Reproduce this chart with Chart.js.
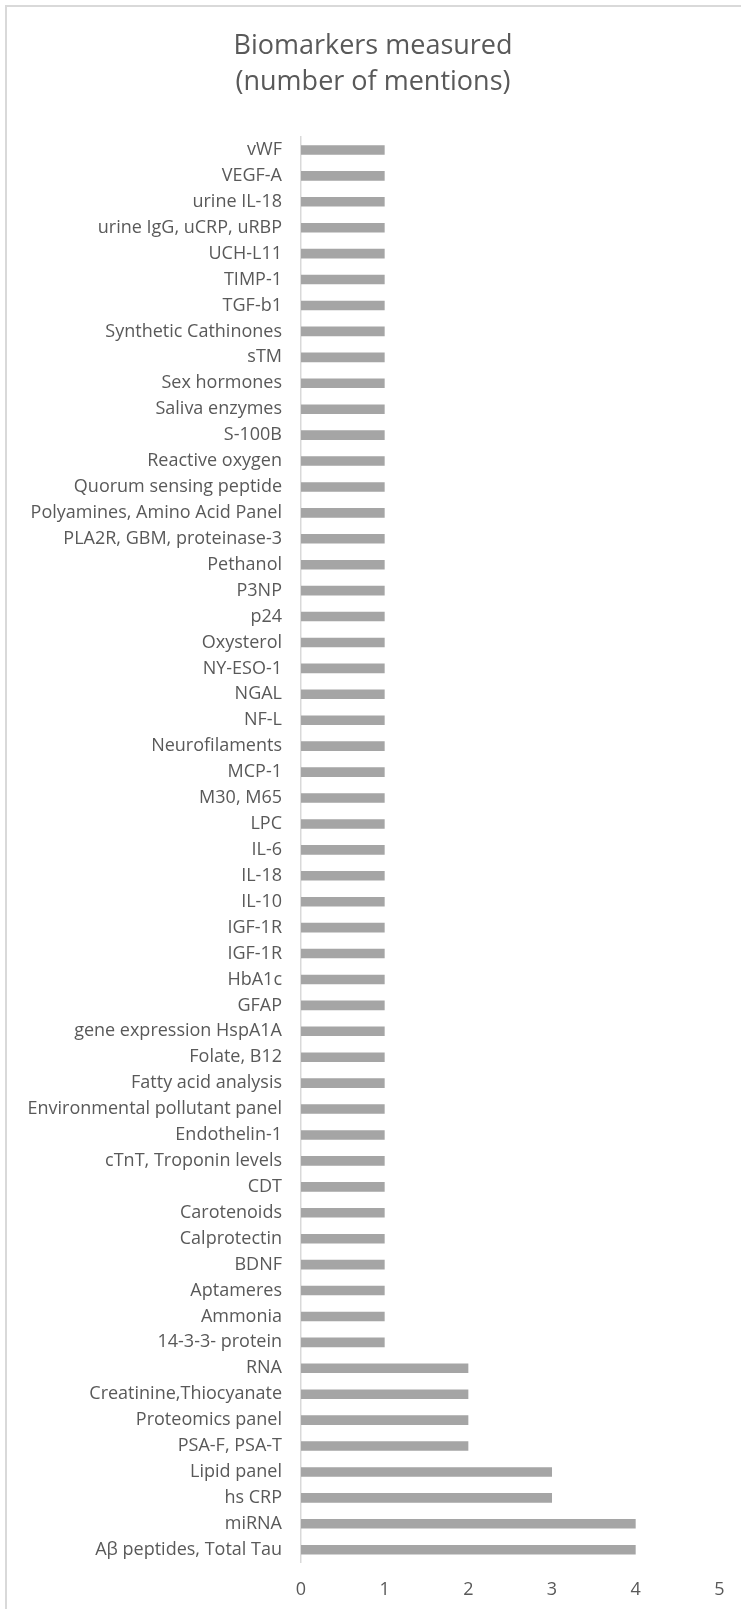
<!DOCTYPE html>
<html>
<head>
<meta charset="utf-8">
<script src="https://cdn.jsdelivr.net/npm/chart.js@4/dist/chart.umd.min.js"></script>
<style>
  html, body { margin: 0; padding: 0; background: #ffffff; }
  #wrap { width: 741px; height: 1609px; }
</style>
</head>
<body>
<div id="wrap"><canvas id="chart" width="741" height="1609"></canvas></div>
<script>
// Biomarkers, listed top to bottom
const biomarkers = [
  'vWF', 'VEGF-A', 'urine IL-18', 'urine IgG, uCRP, uRBP', 'UCH-L11', 'TIMP-1', 'TGF-b1',
  'Synthetic Cathinones', 'sTM', 'Sex hormones', 'Saliva enzymes', 'S-100B', 'Reactive oxygen',
  'Quorum sensing peptide', 'Polyamines, Amino Acid Panel', 'PLA2R, GBM, proteinase-3', 'Pethanol',
  'P3NP', 'p24', 'Oxysterol', 'NY-ESO-1', 'NGAL', 'NF-L', 'Neurofilaments', 'MCP-1', 'M30, M65',
  'LPC', 'IL-6', 'IL-18', 'IL-10', 'IGF-1R', 'IGF-1R', 'HbA1c', 'GFAP', 'gene expression HspA1A',
  'Folate, B12', 'Fatty acid analysis', 'Environmental pollutant panel', 'Endothelin-1',
  'cTnT, Troponin levels', 'CDT', 'Carotenoids', 'Calprotectin', 'BDNF', 'Aptameres', 'Ammonia',
  '14-3-3- protein', 'RNA', 'Creatinine,Thiocyanate', 'Proteomics panel', 'PSA-F, PSA-T',
  'Lipid panel', 'hs CRP', 'miRNA', 'A\u03b2 peptides, Total Tau'
];

// Number of mentions per biomarker (same order)
const mentions = [
  1, 1, 1, 1, 1, 1, 1,
  1, 1, 1, 1, 1, 1,
  1, 1, 1, 1,
  1, 1, 1, 1, 1, 1, 1, 1, 1,
  1, 1, 1, 1, 1, 1, 1, 1, 1,
  1, 1, 1, 1,
  1, 1, 1, 1, 1, 1, 1,
  1, 2, 2, 2, 2,
  3, 3, 4, 4
];

// Value axis ticks
const mentionTicks = [0, 1, 2, 3, 4, 5];

const chartTitle = ['Biomarkers measured', '(number of mentions)'];

const textColor = '#595959';
const lineColor = '#d9d9d9';
const barColor = '#a5a5a5';
const fontFamily = "'Open Sans', 'DejaVu Sans', sans-serif";

// Outer frame of the chart object
const framePlugin = {
  id: 'frame',
  beforeDraw(chart) {
    const ctx = chart.ctx;
    ctx.save();
    ctx.fillStyle = '#ffffff';
    ctx.fillRect(0, 0, chart.width, chart.height);
    ctx.strokeStyle = lineColor;
    ctx.lineWidth = 2;
    ctx.strokeRect(6, 6, chart.width + 20, chart.height + 20);
    ctx.restore();
  }
};

new Chart(document.getElementById('chart'), {
  type: 'bar',
  data: {
    labels: biomarkers,
    datasets: [{
      data: mentions,
      backgroundColor: barColor,
      borderWidth: 0,
      barPercentage: 0.37,
      categoryPercentage: 1.0
    }]
  },
  plugins: [framePlugin],
  options: {
    indexAxis: 'y',
    responsive: false,
    animation: false,
    devicePixelRatio: 1,
    layout: { padding: { left: 26.5, right: 21.5, top: 0, bottom: 0 } },
    plugins: {
      legend: { display: false },
      tooltip: { enabled: false },
      title: {
        display: true,
        text: chartTitle,
        color: textColor,
        font: { family: fontFamily, size: 27, weight: 'normal', lineHeight: 1.3333 },
        padding: { top: 28, bottom: 37 }
      }
    },
    scales: {
      x: {
        type: 'linear',
        position: 'bottom',
        min: mentionTicks[0],
        max: mentionTicks[mentionTicks.length - 1],
        afterBuildTicks(scale) {
          scale.ticks = mentionTicks.map(v => ({ value: v }));
        },
        afterFit(scale) { scale.height = 46.3; },
        grid: { display: false, drawTicks: false },
        border: { display: false },
        ticks: {
          color: textColor,
          padding: 16.5,
          font: { family: fontFamily, size: 18 }
        }
      },
      y: {
        type: 'category',
        position: 'left',
        afterFit(scale) { scale.width = 274.5; },
        grid: { display: false, drawTicks: false },
        border: { display: true, color: lineColor, width: 1.5 },
        ticks: {
          color: textColor,
          padding: 19,
          autoSkip: false,
          font: { family: fontFamily, size: 18 }
        }
      }
    }
  }
});
</script>
</body>
</html>
